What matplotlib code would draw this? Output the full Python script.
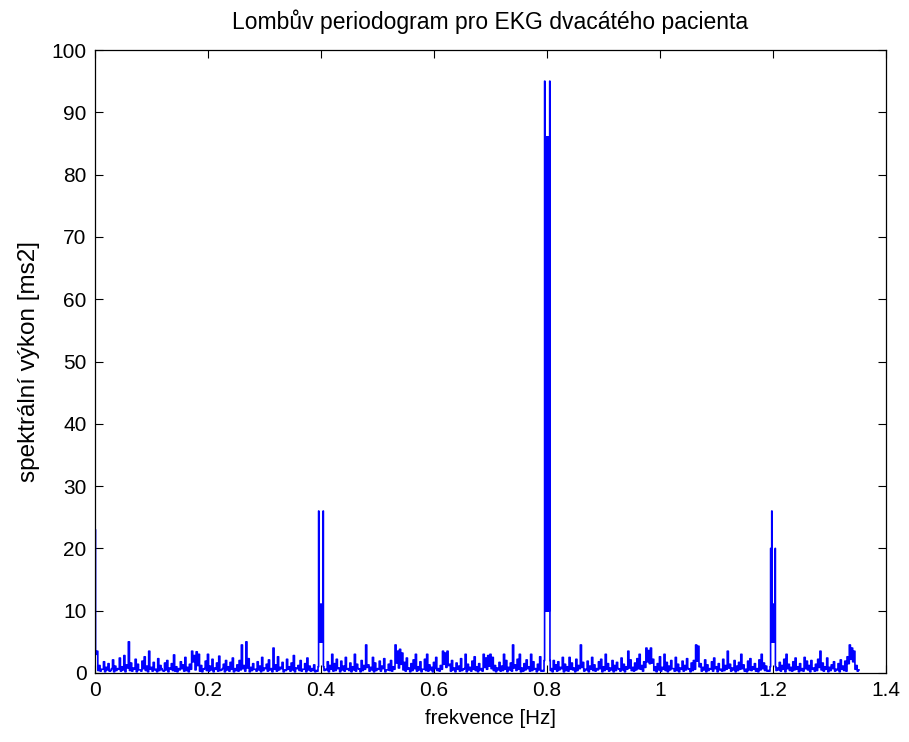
import numpy as np
import matplotlib
matplotlib.use("Agg")
import matplotlib.pyplot as plt

# baseline of the periodogram, step 0.004 Hz from 0 to 1.352 Hz
step = 0.004
base_power = [
    23.0, 3.5, 1.2, 0.6, 1.8, 0.9, 1.5, 0.4, 2.1, 1.1, 0.7, 2.4, 1.0, 2.8, 1.3, 5.0, 1.6, 0.8, 2.2, 1.4,
    0.5, 1.9, 2.6, 1.1, 3.5, 0.9, 1.7, 0.6, 2.3, 1.2, 0.4, 1.6, 2.0, 0.8, 1.5, 2.9, 1.0, 0.7, 1.8, 1.3,
    2.5, 0.9, 1.4, 3.5, 2.8, 3.4, 3.0, 1.2, 0.6, 1.9, 3.0, 1.1, 2.2, 0.8, 1.6, 2.7, 0.5, 1.4, 2.0, 1.0,
    1.7, 2.4, 0.7, 1.3, 2.0, 4.5, 1.2, 5.0, 2.3, 0.9, 1.5, 0.6, 1.8, 1.1, 2.5, 0.8, 1.4, 2.1, 0.7, 4.0,
    1.3, 2.6, 0.9, 1.7, 0.5, 2.2, 1.0, 1.6, 2.8, 0.8, 1.2, 2.0, 0.6, 1.5, 2.4, 1.1, 0.7, 1.3, 0.4, 0.3,
    0.3, 0.4, 0.6, 1.8, 1.2, 3.0, 1.5, 2.2, 0.8, 1.9, 1.1, 2.5, 0.7, 1.6, 1.0, 3.0, 1.4, 0.6, 2.0, 1.2,
    4.5, 1.3, 0.9, 2.5, 1.6, 0.7, 1.9, 1.1, 2.3, 0.5, 1.4, 2.0, 1.0, 4.5, 3.5, 3.8, 3.2, 1.7, 2.4, 0.8,
    1.5, 2.1, 3.0, 1.0, 1.8, 0.6, 2.2, 3.0, 1.3, 0.9, 1.7, 2.5, 0.7, 1.2, 3.5, 3.2, 3.5, 1.4, 2.0, 0.8,
    1.6, 1.1, 2.3, 0.6, 3.0, 1.4, 0.9, 1.9, 2.6, 1.0, 1.5, 0.7, 3.0, 2.4, 2.8, 3.0, 2.5, 1.2, 0.8, 1.7,
    1.1, 3.0, 2.0, 0.9, 1.6, 4.5, 1.3, 2.2, 3.0, 0.8, 1.5, 2.1, 1.0, 3.0, 1.8, 0.7, 1.4, 2.6, 0.4, 0.3,
    0.3, 0.4, 0.7, 2.0, 1.3, 1.8, 0.9, 2.5, 1.4, 1.0, 2.5, 1.6, 0.8, 2.2, 1.2, 4.5, 1.7, 0.6, 1.9, 1.1,
    2.5, 1.3, 0.7, 1.8, 2.2, 1.0, 3.0, 1.5, 0.8, 2.0, 1.2, 1.7, 0.6, 2.4, 1.4, 1.0, 3.5, 2.1, 0.9, 1.6,
    2.3, 3.0, 1.2, 1.8, 4.0, 3.6, 4.0, 2.2, 1.0, 1.5, 2.6, 0.9, 3.0, 1.7, 1.1, 2.0, 0.7, 2.5, 1.4, 0.8,
    1.9, 1.2, 2.3, 0.6, 1.6, 2.0, 4.5, 4.3, 1.5, 0.9, 2.1, 1.3, 0.7, 1.8, 2.4, 1.0, 1.5, 0.6, 2.2, 1.2,
    3.5, 1.4, 0.8, 2.0, 1.1, 1.7, 3.0, 1.3, 0.6, 1.9, 2.3, 1.0, 1.5, 0.7, 2.1, 3.0, 1.6, 1.1, 0.4, 0.3,
    0.3, 0.4, 0.8, 1.7, 1.2, 2.2, 3.0, 1.4, 0.9, 1.8, 2.4, 1.0, 1.5, 0.7, 2.5, 1.9, 1.2, 2.0, 0.8, 1.4,
    2.2, 3.5, 1.6, 1.0, 2.4, 0.9, 1.3, 1.8, 0.6, 1.5, 2.1, 1.1, 1.9, 2.6, 4.5, 4.0, 3.5, 1.2, 0.5,
]

# the dips in between, at 0.002 + 0.004*i Hz
mid_power = [
    3.0, 0.4, 0.3, 0.6, 0.2, 0.5, 0.3, 0.7, 0.2, 0.4, 0.6, 0.3, 0.5, 0.2, 0.8, 0.4, 0.3, 0.6, 0.2, 0.5,
    0.3, 0.7, 0.4, 0.2, 0.6, 0.3, 0.5, 0.2, 0.4, 0.7, 0.3, 0.5, 0.2, 0.6, 0.4, 0.3, 0.2, 0.5, 0.7, 0.3,
    0.4, 0.2, 0.6, 1.8, 0.5, 1.2, 0.3, 0.2, 0.7, 0.4, 0.3, 0.5, 0.2, 0.6, 0.3, 0.4, 0.7, 0.2, 0.5, 0.3,
    0.6, 0.2, 0.4, 0.3, 0.5, 0.7, 0.3, 0.8, 0.2, 0.4, 0.6, 0.3, 0.5, 0.2, 0.4, 0.7, 0.3, 0.5, 0.2, 0.6,
    0.3, 0.5, 0.7, 0.2, 0.4, 0.6, 0.3, 0.5, 0.2, 0.7, 0.4, 0.3, 0.6, 0.2, 0.5, 0.3, 0.4, 0.2, 0.3, 0.3,
    0.3, 0.4, 0.5, 0.2, 0.6, 0.3, 0.4, 0.7, 0.2, 0.5, 0.3, 0.6, 0.4, 0.2, 0.5, 0.3, 0.7, 0.2, 0.4, 0.6,
    0.9, 0.3, 0.5, 0.2, 0.4, 0.6, 0.3, 0.7, 0.2, 0.5, 0.4, 0.3, 0.6, 1.6, 0.8, 1.4, 0.5, 0.3, 0.6, 0.2,
    0.4, 0.7, 0.3, 0.5, 0.2, 0.6, 0.4, 0.3, 0.5, 0.2, 0.7, 0.4, 0.3, 0.6, 1.4, 0.9, 1.2, 0.3, 0.5, 0.2,
    0.6, 0.3, 0.4, 0.7, 0.2, 0.5, 0.3, 0.6, 0.4, 0.2, 0.5, 0.3, 0.9, 0.6, 1.1, 0.7, 0.4, 0.2, 0.5, 0.3,
    0.4, 0.6, 0.2, 0.5, 0.3, 0.8, 0.4, 0.6, 0.2, 0.3, 0.5, 0.7, 0.3, 0.4, 0.6, 0.2, 0.5, 0.3, 0.3, 0.3,
    0.3, 0.4, 0.2, 0.6, 0.3, 0.5, 0.7, 0.2, 0.4, 0.3, 0.6, 0.5, 0.2, 0.4, 0.7, 0.9, 0.3, 0.5, 0.2, 0.6,
    0.4, 0.3, 0.5, 0.7, 0.2, 0.4, 0.6, 0.3, 0.5, 0.2, 0.4, 0.7, 0.3, 0.5, 0.2, 0.6, 0.8, 0.4, 0.3, 0.5,
    0.7, 0.6, 0.3, 0.9, 1.8, 1.5, 1.6, 0.4, 0.2, 0.5, 0.3, 0.6, 0.4, 0.2, 0.5, 0.7, 0.3, 0.4, 0.2, 0.6,
    0.3, 0.5, 0.7, 0.2, 0.4, 0.6, 1.9, 1.0, 0.3, 0.5, 0.2, 0.4, 0.6, 0.3, 0.7, 0.2, 0.5, 0.3, 0.4, 0.6,
    0.8, 0.3, 0.5, 0.2, 0.4, 0.6, 0.7, 0.3, 0.2, 0.5, 0.4, 0.6, 0.3, 0.2, 0.5, 0.7, 0.4, 0.3, 0.3, 0.3,
    0.3, 0.4, 0.5, 0.3, 0.6, 0.2, 0.7, 0.4, 0.3, 0.5, 0.6, 0.2, 0.4, 0.3, 0.7, 0.5, 0.2, 0.6, 0.3, 0.4,
    0.9, 0.5, 0.3, 0.6, 0.2, 0.4, 0.7, 0.3, 0.5, 0.2, 0.6, 0.4, 0.3, 1.5, 2.2, 1.8, 0.6, 0.3,
]

# finely resolved peaks at 0.4, 0.8 and 1.2 Hz
peak04_freq = [0.3955, 0.396, 0.3965, 0.397, 0.3975, 0.398, 0.3985, 0.399, 0.3995, 0.400,
               0.4005, 0.401, 0.4015, 0.402, 0.4025, 0.403, 0.4035, 0.404, 0.4045]
peak04_power = [1.0, 26.0, 5.0, 11.0, 5.0, 11.0, 5.0, 11.0, 5.0, 11.0,
                5.0, 11.0, 5.0, 11.0, 5.0, 11.0, 5.0, 26.0, 1.0]

peak08_freq = [0.7955, 0.796, 0.7965, 0.797, 0.7975, 0.798, 0.7985, 0.799, 0.7995, 0.800,
               0.8005, 0.801, 0.8015, 0.802, 0.8025, 0.803, 0.8035, 0.804, 0.8045, 0.805, 0.8055]
peak08_power = [2.0, 95.0, 10.0, 86.0, 10.0, 86.0, 10.0, 86.0, 10.0, 86.0,
                10.0, 86.0, 10.0, 86.0, 10.0, 86.0, 10.0, 86.0, 10.0, 95.0, 2.0]

peak12_freq = [1.1955, 1.196, 1.1965, 1.197, 1.1975, 1.198, 1.1985, 1.199, 1.1995, 1.200,
               1.2005, 1.201, 1.2015, 1.202, 1.2025, 1.203, 1.2035, 1.204, 1.2045]
peak12_power = [1.0, 20.0, 5.0, 11.0, 5.0, 26.0, 5.0, 11.0, 5.0, 11.0,
                5.0, 11.0, 5.0, 11.0, 5.0, 11.0, 5.0, 20.0, 1.0]

xticks = [0, 0.2, 0.4, 0.6, 0.8, 1.0, 1.2, 1.4]
xticklabels = ["0", "0.2", "0.4", "0.6", "0.8", "1", "1.2", "1.4"]
yticks = list(range(0, 101, 10))

# merge baseline and peaks
base_freq = np.concatenate([np.arange(len(base_power)) * step,
                            step / 2 + np.arange(len(mid_power)) * step])
base_vals = np.concatenate([base_power, mid_power])
pf = np.concatenate([peak04_freq, peak08_freq, peak12_freq])
pp = np.concatenate([peak04_power, peak08_power, peak12_power])
keep = np.ones(len(base_freq), dtype=bool)
for lo, hi in [(peak04_freq[0], peak04_freq[-1]), (peak08_freq[0], peak08_freq[-1]),
               (peak12_freq[0], peak12_freq[-1])]:
    keep &= ~((base_freq >= lo - 1e-9) & (base_freq <= hi + 1e-9))
freq = np.concatenate([base_freq[keep], pf])
power = np.concatenate([base_vals[keep], pp])
order = np.argsort(freq)
freq, power = freq[order], power[order]

plt.rcParams["font.family"] = ["Liberation Sans", "DejaVu Sans"]

fig = plt.figure(figsize=(9.09, 7.42), dpi=100)
ax = fig.add_axes([0.1045, 0.093, 0.8702, 0.8396])
ax.plot(freq, power, color=(0, 0, 1), linewidth=1.2, drawstyle="steps-mid")

ax.set_xlim(0, 1.4)
ax.set_ylim(0, 100)
ax.set_xticks(xticks)
ax.set_xticklabels(xticklabels)
ax.set_yticks(yticks)
ax.tick_params(direction="in", length=6, width=0.8, top=True, right=True,
               labelsize=15, pad=6)
for s in ax.spines.values():
    s.set_linewidth(0.9)

ax.set_title("Lombův periodogram pro EKG dvacátého pacienta", fontsize=16.5, pad=15)
ax.set_xlabel("frekvence [Hz]", fontsize=14.8, labelpad=6)
ax.set_ylabel("spektrální výkon [ms2]", fontsize=17.5, labelpad=8)

fig.savefig("out.png", dpi=100)
